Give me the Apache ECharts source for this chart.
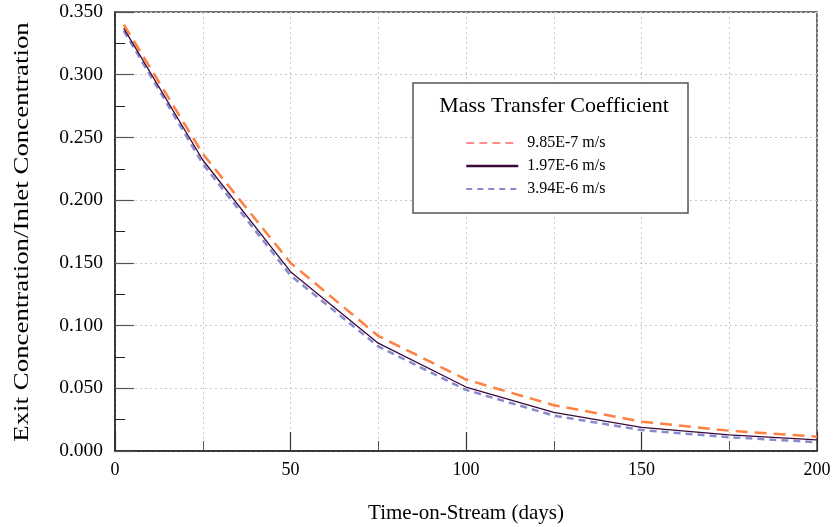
<!DOCTYPE html>
<html>
<head>
<meta charset="utf-8">
<script src="https://cdn.jsdelivr.net/npm/echarts@6/dist/echarts.min.js"></script>
<style>html,body{margin:0;padding:0;background:#fff;}#c{width:833px;height:527px;}</style>
</head>
<body>
<div id="c"></div>
<script>
var days = [2.5, 25, 50, 75, 100, 125, 150, 175, 200];
var s1 = [0.340, 0.237, 0.150, 0.0917, 0.0570, 0.0365, 0.0234, 0.0162, 0.0114];
var s2 = [0.337, 0.232, 0.143, 0.0860, 0.0510, 0.0308, 0.0188, 0.0128, 0.0088];
var s3 = [0.335, 0.229, 0.140, 0.0834, 0.0487, 0.0282, 0.0167, 0.0110, 0.0070];
var names = ['9.85E-7 m/s', '1.97E-6 m/s', '3.94E-6 m/s'];
var yTicks = ['0.000','0.050','0.100','0.150','0.200','0.250','0.300','0.350'];
var yTitle = 'Exit Concentration/Inlet Concentration';
var xTitle = 'Time-on-Stream (days)';
var legendTitle = 'Mass Transfer Coefficient';

function pairs(v){ return days.map(function(d,i){ return [d, v[i]]; }); }
var font = '"Liberation Serif", "Times New Roman", serif';
var chart = echarts.init(document.getElementById('c'), null, {renderer:'canvas'});
chart.setOption({
  backgroundColor: '#fff',
  animation: false,
  textStyle: {fontFamily: font},
  grid: {left:115, right:16, top:12, bottom:76, show:true, borderColor:'#444', borderWidth:1.5,
    backgroundColor:'transparent', containLabel:false, outerBoundsMode:'none'},
  title: {text:legendTitle, left:549, top:90, textAlign:'center',
    textStyle:{fontFamily:font, fontSize:22, fontWeight:'normal', color:'#000'}},
  graphic: [
    {type:'rect', shape:{x:413, y:83, width:275, height:130}, style:{fill:'#fff', stroke:'#555', lineWidth:1.5}, z:1},
    {type:'text', x:22, y:232, rotation:Math.PI/2, scaleX:1.28, z:10,
      style:{text:yTitle, fontFamily:font, fontSize:21, fill:'#000', align:'center', verticalAlign:'middle'}}
  ],
  legend: {
    orient:'vertical', left:460, top:130, itemWidth:52, itemHeight:14, itemGap:7,
    textStyle:{fontFamily:font, fontSize:16, color:'#000', padding:[0,0,0,4]}, z:5,
    data:[
      {name:names[0], lineStyle:{color:'#ff6b6b', type:[8,5], width:1.5}, itemStyle:{opacity:0}},
      {name:names[1], lineStyle:{color:'#3a0a3a', width:2.5}, itemStyle:{opacity:0}},
      {name:names[2], lineStyle:{color:'#8a8ad0', type:[6,5], width:2}, itemStyle:{opacity:0}}
    ]
  },
  xAxis: {
    type:'value', min:0, max:200, interval:50,
    name:xTitle, nameLocation:'middle', nameGap:52,
    nameTextStyle:{fontFamily:font, fontSize:21, color:'#000'},
    axisLine:{show:true, lineStyle:{color:'#222', width:1.5}},
    axisTick:{show:true, inside:true, length:19, lineStyle:{color:'#333', width:1.2}},
    minorTick:{show:true, splitNumber:2, length:10, lineStyle:{color:'#555', width:1}},
    axisLabel:{fontFamily:font, fontSize:18, color:'#000', margin:10},
    splitLine:{show:true, lineStyle:{color:'#c8c8c8', type:[2,3], width:1}},
    minorSplitLine:{show:true, lineStyle:{color:'#c8c8c8', type:[2,3], width:1}}
  },
  yAxis: {
    type:'value', min:0, max:0.35, interval:0.05,
    axisLine:{show:true, lineStyle:{color:'#222', width:1.5}},
    axisTick:{show:true, inside:true, length:19, lineStyle:{color:'#555', width:1.2}},
    minorTick:{show:true, splitNumber:2, length:10, lineStyle:{color:'#222', width:1}},
    axisLabel:{fontFamily:font, fontSize:19.5, color:'#000', margin:12,
      formatter:function(v){ return yTicks[Math.round(v/0.05)]; }},
    splitLine:{show:true, lineStyle:{color:'#c8c8c8', type:[2,3], width:1}}
  },
  series: [
    {name:names[0], type:'line', data:pairs(s1), showSymbol:false, symbol:'none', z:3,
      lineStyle:{color:'#ff8040', type:[12,7], width:2.5}, itemStyle:{color:'#ff8040'}},
    {name:names[2], type:'line', data:pairs(s3), showSymbol:false, symbol:'none', z:3,
      lineStyle:{color:'#8a8ad0', type:[7,5], width:2.5}, itemStyle:{color:'#8a8ad0'}},
    {name:names[1], type:'line', data:pairs(s2), showSymbol:false, symbol:'none', z:4,
      lineStyle:{color:'#3a0a3a', width:1.3}, itemStyle:{color:'#3a0a3a'}}
  ]
});
</script>
</body>
</html>
